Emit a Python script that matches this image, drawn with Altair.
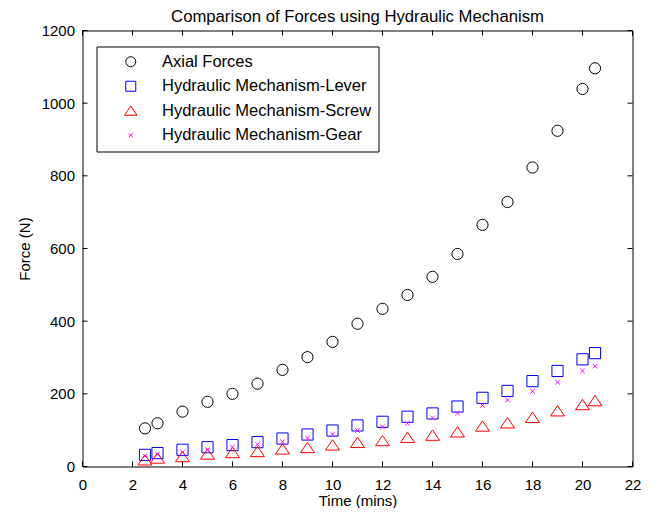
import altair as alt
import pandas as pd

time = [2.5, 3, 4, 5, 6, 7, 8, 9, 10, 11, 12, 13, 14, 15, 16, 17, 18, 19, 20, 20.5]
axial = [105, 119, 151, 178, 200, 228, 266, 301, 343, 393, 434, 472, 522, 585, 665, 728, 823, 924, 1039, 1096]
lever = [32, 37, 46, 53, 59, 67, 77, 88, 99, 113, 123, 137, 146, 165, 189, 208, 235, 263, 295, 312]
screw = [18, 23, 27, 34, 38, 41, 48, 52, 59, 66, 71, 80, 86, 95, 111, 120, 135, 153, 170, 181]
gear = [29, 34, 39, 46, 53, 61, 68, 78, 89, 99, 109, 119, 134, 147, 168, 183, 207, 232, 263, 276]

series_names = ["Axial Forces", "Hydraulic Mechanism-Lever",
                "Hydraulic Mechanism-Screw", "Hydraulic Mechanism-Gear"]
x_ticks = [0, 2, 4, 6, 8, 10, 12, 14, 16, 18, 20, 22]
y_ticks = [0, 200, 400, 600, 800, 1000, 1200]

rows = []
for name, vals in zip(series_names, [axial, lever, screw, gear]):
    for t, v in zip(time, vals):
        rows.append({"time": t, "force": v, "series": name})
df = pd.DataFrame(rows)
df["idx"] = range(len(df))
xt = pd.DataFrame({"time": x_ticks})
yt = pd.DataFrame({"force": y_ticks})

W, H = 550, 436
FONT = "Liberation Sans"

xscale = alt.Scale(domain=[0, 22], nice=False, zero=False)
yscale = alt.Scale(domain=[0, 1200], nice=False)
xaxis = alt.Axis(values=x_ticks, title="Time (mins)", ticks=False, domain=False, grid=False,
                 labelFontSize=15, titleFontSize=15, labelPadding=11, titlePadding=1,
                 labelFlush=False, labelOverlap=False,
                 labelFont=FONT, titleFont=FONT, labelColor="black", titleColor="black",
                 titleFontWeight="normal", format="d")
yaxis = alt.Axis(values=y_ticks, title="Force (N)", ticks=False, domain=False, grid=False,
                 labelFontSize=15, titleFontSize=15, labelPadding=8, titlePadding=9,
                 labelFlush=False, labelOverlap=False,
                 labelFont=FONT, titleFont=FONT, labelColor="black", titleColor="black",
                 titleFontWeight="normal", format="d")

tri = "M0,-0.95L1.25,0.9L-1.25,0.9Z"
xmark = "M-0.4,-0.4L0.4,0.4M0.4,-0.4L-0.4,0.4"

legend = alt.Legend(orient="none", legendX=14, legendY=16, title=None,
                    padding=7, rowPadding=7.5, strokeColor="black", fillColor="white",
                    cornerRadius=0, labelFontSize=16.5, labelFont=FONT, labelColor="black",
                    symbolSize=100, symbolStrokeWidth=1, symbolOffset=19, labelOffset=23,
                    labelLimit=400)

points = alt.Chart(df).mark_point(filled=False, size=125, strokeWidth=1, opacity=1).encode(
    x=alt.X("time:Q", scale=xscale, axis=xaxis),
    y=alt.Y("force:Q", scale=yscale, axis=yaxis),
    color=alt.Color("series:N", scale=alt.Scale(domain=series_names,
                    range=["black", "#0000ff", "#ff0000", "#ff00ff"]), legend=legend),
    shape=alt.Shape("series:N", scale=alt.Scale(domain=series_names,
                    range=["circle", "square", tri, xmark]), legend=legend),
    order=alt.Order("idx:Q"),
)

tick_len = 5
xb = alt.Chart(xt).mark_rule(color="black", strokeWidth=1).encode(
    x=alt.X("time:Q", scale=xscale, axis=xaxis), y=alt.value(H), y2=alt.value(H - tick_len))
xtp = alt.Chart(xt).mark_rule(color="black", strokeWidth=1).encode(
    x=alt.X("time:Q", scale=xscale, axis=xaxis), y=alt.value(0), y2=alt.value(tick_len))
yl = alt.Chart(yt).mark_rule(color="black", strokeWidth=1).encode(
    y=alt.Y("force:Q", scale=yscale, axis=yaxis), x=alt.value(0), x2=alt.value(tick_len))
yr = alt.Chart(yt).mark_rule(color="black", strokeWidth=1).encode(
    y=alt.Y("force:Q", scale=yscale, axis=yaxis), x=alt.value(W), x2=alt.value(W - tick_len))

chart = alt.layer(xb, xtp, yl, yr, points).properties(
    width=W, height=H,
    title=alt.TitleParams("Comparison of Forces using Hydraulic Mechanism",
                          fontSize=16.7, font=FONT, fontWeight="normal", color="black", offset=-2),
    autosize=alt.AutoSizeParams(type="none"),
    padding={"left": 74.5, "top": 22.5, "right": 16, "bottom": 41},
).configure_view(stroke="black", strokeWidth=1)

chart.save("out.html", embed_options={"renderer": "svg", "actions": False})
